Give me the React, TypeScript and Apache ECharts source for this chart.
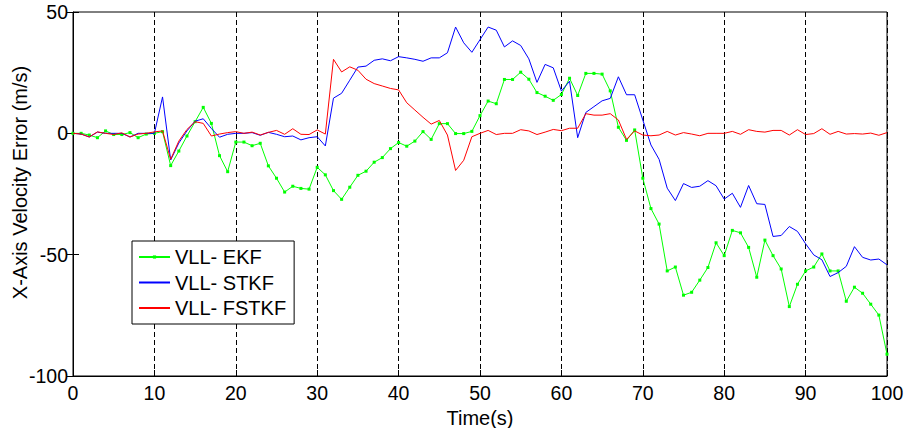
import React, { useEffect, useRef } from "react";
import * as echarts from "echarts";

const times = [
  0, 1, 2, 3, 4, 5, 6, 7, 8, 9, 10, 11, 12, 13, 14, 15, 16, 17, 18, 19, 20,
  21, 22, 23, 24, 25, 26, 27, 28, 29, 30, 31, 32, 33, 34, 35, 36, 37, 38, 39, 40,
  41, 42, 43, 44, 45, 46, 47, 48, 49, 50, 51, 52, 53, 54, 55, 56, 57, 58, 59, 60,
  61, 62, 63, 64, 65, 66, 67, 68, 69, 70, 71, 72, 73, 74, 75, 76, 77, 78, 79, 80,
  81, 82, 83, 84, 85, 86, 87, 88, 89, 90, 91, 92, 93, 94, 95, 96, 97, 98, 99, 100,
];

const ekf = [
  0, 0, -0.7, -1.8, 1, -0.5, -0.5, 0.3, -1.8, -0.3, 0,
  0.7, -13.3, -7.3, -1.1, 4.8, 10.7, 4.1, -9.2, -15.8, -3.6,
  -3.6, -5.1, -4.1, -13.4, -18.5, -24.2, -21.8, -22.7, -23, -14,
  -17.1, -23.6, -27.2, -22.2, -17.3, -15.6, -11.9, -10, -6.3, -3.8,
  -5.3, -3.2, 0.7, -2.5, 4, 4, -0.1, -0.1, 0.8, 7.3,
  13.3, 12.2, 22.2, 22.2, 25.2, 22.3, 16.8, 15.3, 13.6, 16,
  22.7, 15.6, 24.7, 24.7, 24.4, 17.5, 2.5, -2.9, 1.4, -18.5,
  -31, -37.4, -56.7, -55.1, -66.7, -65.5, -60.5, -55.3, -45.1, -50.4,
  -40, -41, -47, -59.3, -44, -50.4, -55.9, -71.4, -62.2, -56.7,
  -55.1, -49.7, -56.7, -56.7, -69.2, -63.4, -65.9, -70.4, -74.9, -91,
];

const stkf = [
  0, -0.3, -1.5, 0.5, 0, 0, 0, -1.5, 0, 0, 0,
  15, -11, -4, 1, 5, 6, 2, -1.6, -0.4, 0,
  0, 0.3, -0.8, 0.4, -0.4, -1.4, -1.1, -2.7, -1.8, -1.4,
  -5.2, 14.5, 16.5, 21.9, 27.3, 27.7, 30.1, 30.7, 29.9, 31.6,
  31.1, 30.5, 29.7, 31.1, 31.1, 33.2, 43.8, 37.3, 33.4, 38.6,
  43.8, 42.5, 35.6, 38.1, 36.2, 30.7, 21, 28.4, 27, 17.4,
  21.5, -1.8, 8.6, 11, 13.4, 14.4, 23.3, 15.9, 15.9, 5.5,
  -4.8, -10.7, -22.6, -27.7, -20.7, -22.3, -21.8, -19.5, -21.6, -27.1,
  -24.7, -30.5, -21.5, -29, -29.3, -42.5, -42.1, -38.4, -40.4, -45.5,
  -50.1, -52.1, -59, -57.4, -54.8, -46.7, -51.1, -52.2, -51.8, -54.2,
];

const fstkf = [
  0, -0.3, -1.5, 0.6, 0, -0.5, 0.2, -1.5, -0.3, 0, 0.6,
  1, -10.7, -3.2, 1.6, 4.8, 4.1, -1.1, -0.3, 0.3, 0.7,
  0, 0.5, -0.7, 0.4, 1.2, -0.4, 1.9, -0.4, -0.5, 1.4,
  -0.3, 30.5, 25.3, 27.4, 26, 22.3, 20.5, 19.5, 18.5, 17.9,
  12.6, 9.6, 6.6, 3.8, 5.3, -0.7, -15.3, -11.1, -1.4, 0,
  1.2, -0.5, 0, 0, 1.5, 1, -0.5, 0.5, 1.6, 1.1,
  2.1, 2.1, 8.1, 7.5, 7.5, 8.1, 5.5, -2.5, 1, -0.7,
  -1, -0.7, 0.8, -0.7, 0.3, -0.3, -1, 0, 0, 0,
  0.8, -0.4, 1.5, 0.8, 0.5, 1.2, 1.2, -0.7, 1.5, -0.5,
  -0.1, 1.9, -0.4, 0.8, -0.3, -0.1, -0.3, 0.1, -0.8, 0.3,
];

const seriesNames = ["VLL- EKF", "VLL- STKF", "VLL- FSTKF"];
const xTitle = "Time(s)";
const yTitle = "X-Axis Velocity Error (m/s)";

const FONT = "Liberation Sans, Arial, Helvetica, sans-serif";

function pairs(vals: number[]) {
  return vals.map((v, i) => [times[i], v]);
}

export default function App() {
  const ref = useRef<HTMLDivElement>(null);

  useEffect(() => {
    if (!ref.current) return;
    const chart = echarts.init(ref.current, undefined, { renderer: "svg" });
    const hiddenAxis = {
      axisLabel: { show: false },
      axisLine: { show: false },
      splitLine: { show: false },
    };
    const tick = { show: true, inside: true, length: 6, lineStyle: { color: "#000" } };
    chart.setOption({
      animation: false,
      backgroundColor: "#fff",
      textStyle: { fontFamily: FONT },
      grid: {
        left: 73,
        right: 20,
        top: 12,
        bottom: 52,
        outerBoundsMode: "none",
        containLabel: false,
        show: true,
        borderColor: "#000",
        borderWidth: 1,
        backgroundColor: "transparent",
      },
      legend: {
        data: [
          { name: seriesNames[0] },
          { name: seriesNames[1], itemStyle: { opacity: 0 } },
          { name: seriesNames[2], itemStyle: { opacity: 0 } },
        ],
        orient: "vertical",
        left: 132,
        top: 241,
        padding: [6, 8, 6, 6],
        itemGap: 5.5,
        itemWidth: 31,
        itemHeight: 4,
        backgroundColor: "#fff",
        borderColor: "#000",
        borderWidth: 1,
        borderRadius: 0,
        textStyle: {
          fontFamily: FONT,
          fontSize: 20,
          color: "#000",
          lineHeight: 20,
        },
      },
      xAxis: [
        {
          type: "value",
          min: 0,
          max: 100,
          interval: 10,
          name: xTitle,
          nameLocation: "middle",
          nameGap: 32,
          nameMoveOverlap: false,
          nameTextStyle: { fontFamily: FONT, fontSize: 20, color: "#000", verticalAlign: "top" },
          axisLine: { show: true, onZero: false, lineStyle: { color: "#000", width: 1 } },
          axisTick: tick,
          axisLabel: { fontFamily: FONT, fontSize: 19.5, color: "#000", margin: 7 },
          splitLine: {
            show: true,
            lineStyle: { color: "#000", type: [5, 3], width: 1 },
          },
        },
        {
          type: "value",
          position: "top",
          min: 0,
          max: 100,
          interval: 10,
          axisTick: tick,
          ...hiddenAxis,
        },
      ],
      yAxis: [
        {
          type: "value",
          min: -100,
          max: 50,
          interval: 50,
          name: yTitle,
          nameLocation: "middle",
          nameGap: 43,
          nameMoveOverlap: false,
          nameTextStyle: {
            fontFamily: FONT,
            fontSize: 20,
            color: "#000",
            padding: [0, 0, 0, 23],
          },
          axisLine: { show: true, onZero: false, lineStyle: { color: "#000", width: 1 } },
          axisTick: tick,
          axisLabel: { fontFamily: FONT, fontSize: 19.5, color: "#000", margin: 5 },
          splitLine: { show: false },
        },
        {
          type: "value",
          position: "right",
          min: -100,
          max: 50,
          interval: 50,
          axisTick: tick,
          ...hiddenAxis,
        },
      ],
      series: [
        {
          name: seriesNames[0],
          type: "line",
          data: pairs(ekf),
          symbol: "rect",
          symbolSize: 3,
          showAllSymbol: true,
          color: "#00ff00",
          lineStyle: { color: "#00ff00", width: 1 },
          itemStyle: { color: "#00ff00" },
          z: 2,
        },
        {
          name: seriesNames[1],
          type: "line",
          data: pairs(stkf),
          symbol: "none",
          color: "#0000ff",
          lineStyle: { color: "#0000ff", width: 1 },
          z: 3,
        },
        {
          name: seriesNames[2],
          type: "line",
          data: pairs(fstkf),
          symbol: "none",
          color: "#ff0000",
          lineStyle: { color: "#ff0000", width: 1 },
          z: 4,
        },
      ],
    });
    return () => chart.dispose();
  }, []);

  return (
    <div
      ref={ref}
      style={{ position: "fixed", left: 0, top: 0, width: 907, height: 428, background: "#fff" }}
    />
  );
}
